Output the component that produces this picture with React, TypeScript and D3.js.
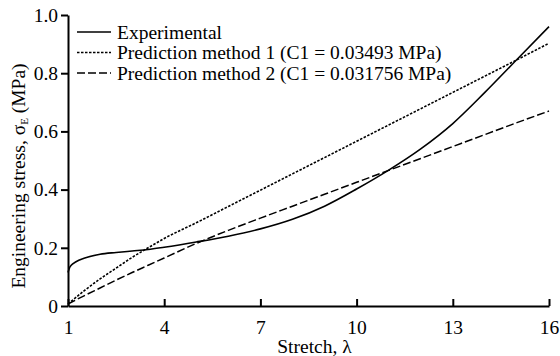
import { useEffect, useRef } from "react";
import * as d3 from "d3";

const xTicks = [1, 4, 7, 10, 13, 16];
const yTicks = [0, 0.2, 0.4, 0.6, 0.8, 1.0];

const expStretch = [1, 1.05, 1.1, 1.25, 1.5, 2, 2.5, 3, 3.5, 4, 5, 6, 7, 8, 9, 10, 11, 12, 13, 14, 15, 16];
const expStress = [0.115, 0.132, 0.14, 0.152, 0.164, 0.178, 0.184, 0.189, 0.194, 0.202, 0.22, 0.24, 0.265, 0.298, 0.343, 0.402, 0.467, 0.54, 0.627, 0.734, 0.847, 0.96];

const predStretch = [1, 1.5, 2, 2.5, 3, 3.5, 4, 5, 6, 7, 8, 9, 10, 11, 12, 13, 14, 15, 16];
const pred1Stress = [0.007, 0.052, 0.093, 0.13, 0.167, 0.2, 0.232, 0.286, 0.342, 0.398, 0.454, 0.51, 0.566, 0.622, 0.678, 0.734, 0.79, 0.846, 0.903];
const pred2Stress = [0.007, 0.035, 0.062, 0.089, 0.115, 0.14, 0.165, 0.215, 0.26, 0.302, 0.343, 0.384, 0.425, 0.466, 0.507, 0.548, 0.589, 0.63, 0.67];

const seriesNames = [
  "Experimental",
  "Prediction method 1 (C1 = 0.03493 MPa)",
  "Prediction method 2 (C1 = 0.031756 MPa)",
];

function StressChart({ width, height }: { width: number; height: number }) {
  const svgRef = useRef<SVGSVGElement>(null);

  useEffect(() => {
    const svg = d3.select(svgRef.current);
    svg.selectAll("*").remove();

    const font = "'Liberation Serif', 'Times New Roman', serif";
    const fs = 19.5;
    const margin = { top: 15, right: 11, bottom: 50, left: 68 };
    const innerWidth = width - margin.left - margin.right;
    const innerHeight = height - margin.top - margin.bottom;

    const x = d3.scaleLinear().domain([1, 16]).range([0, innerWidth]);
    const y = d3.scaleLinear().domain([0, 1]).range([innerHeight, 0]);

    const g = svg.append("g").attr("transform", `translate(${margin.left},${margin.top})`);

    // x axis, ticks pointing inward
    const xAxis = g.append("g")
      .attr("transform", `translate(0,${innerHeight})`)
      .call(d3.axisBottom(x).tickValues(xTicks).tickSizeInner(-7).tickSizeOuter(0).tickPadding(14).tickFormat(d3.format("d")));
    xAxis.select(".domain").attr("stroke-width", 2);
    xAxis.selectAll(".tick line").attr("stroke-width", 2);
    xAxis.selectAll("text").attr("font-family", font).attr("font-size", fs).attr("fill", "#000");

    // y axis, ticks outward
    const yAxis = g.append("g")
      .call(d3.axisLeft(y).tickValues(yTicks).tickSizeInner(7).tickSizeOuter(0).tickPadding(3)
        .tickFormat(d => (d === 0 ? "0" : d3.format(".1f")(d as number))));
    yAxis.select(".domain").attr("stroke-width", 2);
    yAxis.selectAll(".tick line").attr("stroke-width", 2);
    yAxis.selectAll("text").attr("font-family", font).attr("font-size", fs).attr("fill", "#000");

    const line = d3.line<[number, number]>()
      .x(d => x(d[0]))
      .y(d => y(d[1]))
      .curve(d3.curveMonotoneX);

    const styles = [
      { dash: null, width: 1.6 },
      { dash: "2.5,1.5", width: 1.6 },
      { dash: "8,3", width: 1.5 },
    ];

    const series: [number, number][][] = [
      expStretch.map((s, i) => [s, expStress[i]]),
      predStretch.map((s, i) => [s, pred1Stress[i]]),
      predStretch.map((s, i) => [s, pred2Stress[i]]),
    ];

    series.forEach((pts, i) => {
      g.append("path")
        .datum(pts)
        .attr("fill", "none")
        .attr("stroke", "#000")
        .attr("stroke-width", styles[i].width)
        .attr("stroke-dasharray", styles[i].dash)
        .attr("d", line);
    });

    // legend
    const legend = g.append("g");
    seriesNames.forEach((name, i) => {
      const ly = 17 + i * 20.5;
      legend.append("line")
        .attr("x1", 9).attr("x2", 43).attr("y1", ly).attr("y2", ly)
        .attr("stroke", "#000")
        .attr("stroke-width", styles[i].width)
        .attr("stroke-dasharray", styles[i].dash);
      legend.append("text")
        .attr("x", 49).attr("y", ly).attr("dy", "0.35em")
        .attr("font-family", font).attr("font-size", fs)
        .text(name);
    });

    // axis titles
    svg.append("text")
      .attr("x", margin.left + innerWidth / 2 + 6)
      .attr("y", 353)
      .attr("text-anchor", "middle")
      .attr("font-family", font).attr("font-size", fs)
      .text("Stretch, λ");

    const yTitle = svg.append("text")
      .attr("transform", "translate(25,176) rotate(-90)")
      .attr("text-anchor", "middle")
      .attr("font-family", font).attr("font-size", fs);
    yTitle.append("tspan").text("Engineering stress, σ");
    yTitle.append("tspan").attr("font-size", 11).attr("dy", 3).text("E");
    yTitle.append("tspan").attr("dy", -3).text(" (MPa)");
  }, [width, height]);

  return <svg ref={svgRef} width={width} height={height} style={{ position: "absolute", left: 0, top: 0, background: "#fff" }} />;
}

export default function App() {
  return <StressChart width={560} height={356} />;
}
